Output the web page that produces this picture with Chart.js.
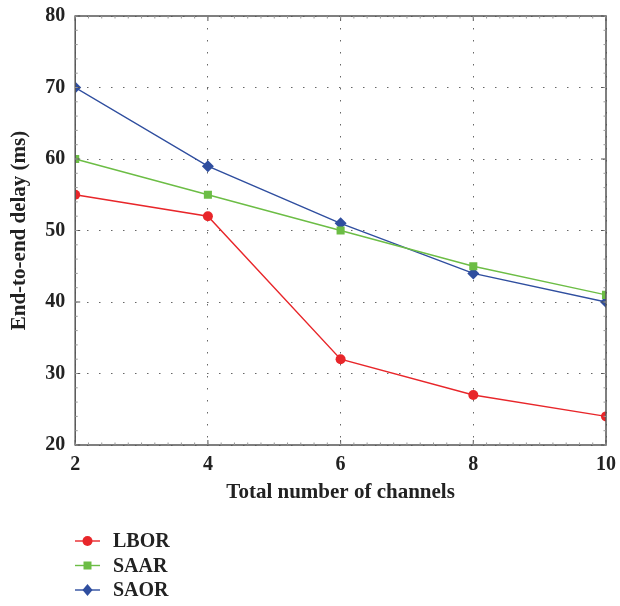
<!DOCTYPE html>
<html>
<head>
<meta charset="utf-8">
<script src="https://cdn.jsdelivr.net/npm/chart.js@4/dist/chart.umd.min.js"></script>
<style>
  html, body { margin:0; padding:0; background:#fff; }
  #wrap { width:620px; height:606px; position:relative; }
</style>
</head>
<body>
<div id="wrap"><canvas id="chart" width="620" height="606"></canvas></div>
<script>
// -- dati --
const channels = [2, 4, 6, 8, 10];
const lbor = [55, 52, 32, 27, 24];
const saar = [60, 55, 50, 45, 41];
const saor = [70, 59, 51, 44, 40];
const seriesNames = ["LBOR", "SAAR", "SAOR"];
const yTicks = [20, 30, 40, 50, 60, 70, 80];

const FONT = "'Liberation Serif', 'DejaVu Serif', serif";
const pts = arr => arr.map((v,i)=>({x:channels[i], y:v}));

// -- cornice, tacche e legenda verticale in basso
const framePlugin = {
  id:'frame',
  afterDraw(chart) {
    const {ctx, chartArea:a, scales:{x, y}} = chart;
    ctx.save();
    ctx.strokeStyle = '#555';
    ctx.lineWidth = 1.5;
    ctx.strokeRect(a.left, a.top, a.right-a.left, a.bottom-a.top);
    ctx.lineWidth = 1;
    // tacche principali
    channels.forEach(v => {
      let px = x.getPixelForValue(v);
      ctx.beginPath();
      ctx.moveTo(px, a.bottom); ctx.lineTo(px, a.bottom-5);
      ctx.moveTo(px, a.top); ctx.lineTo(px, a.top+5);
      ctx.stroke();
    });
    yTicks.forEach(v => {
      let py = y.getPixelForValue(v);
      ctx.beginPath();
      ctx.moveTo(a.left, py); ctx.lineTo(a.left+5, py);
      ctx.moveTo(a.right, py); ctx.lineTo(a.right-5, py);
      ctx.stroke();
    });
    // tacche minori
    ctx.strokeStyle = '#999';
    for (let v=2; v<=10; v+=0.2) {
      let px = x.getPixelForValue(v);
      ctx.beginPath();
      ctx.moveTo(px, a.top); ctx.lineTo(px, a.top+2.5);
      ctx.moveTo(px, a.bottom); ctx.lineTo(px, a.bottom-2.5);
      ctx.stroke();
    }
    for (let v=20; v<=80; v+=2) {
      let py = y.getPixelForValue(v);
      ctx.beginPath();
      ctx.moveTo(a.left, py); ctx.lineTo(a.left+2.5, py);
      ctx.moveTo(a.right, py); ctx.lineTo(a.right-2.5, py);
      ctx.stroke();
    }
    // legenda
    chart.data.datasets.forEach((ds, i) => {
      let ly = 541 + i*24.5;
      ctx.strokeStyle = ds.borderColor;
      ctx.lineWidth = 1.4;
      ctx.beginPath(); ctx.moveTo(75, ly); ctx.lineTo(100, ly); ctx.stroke();
      ctx.fillStyle = ds.pointBackgroundColor;
      ctx.beginPath();
      if (ds.pointStyle === 'circle') ctx.arc(87.5, ly, 5, 0, Math.PI*2);
      else if (ds.pointStyle === 'rect') ctx.rect(83.5, ly-4, 8, 8);
      else { ctx.moveTo(87.5, ly-6); ctx.lineTo(92.5, ly); ctx.lineTo(87.5, ly+6); ctx.lineTo(82.5, ly); ctx.closePath(); }
      ctx.fill();
      ctx.fillStyle = '#222';
      ctx.font = "bold 20px " + FONT;
      ctx.textBaseline = 'middle';
      ctx.fillText(ds.label, 113, ly+1);
    });
    ctx.restore();
  }
};

const colors = ["#e8262a", "#6cbd45", "#2f4e9f"];
const styles = ["circle", "rect", "rectRot"];
const radii = [5, 5.7, 6];
const allData = [lbor, saar, saor];

new Chart(document.getElementById('chart'), {
  type:'line',
  data:{
    datasets: allData.map((d,i)=>({
      label: seriesNames[i],
      data: pts(d),
      borderColor: colors[i],
      backgroundColor: colors[i],
      pointBackgroundColor: colors[i],
      pointBorderColor: colors[i],
      pointBorderWidth: 0,
      pointStyle: styles[i],
      pointRadius: radii[i],
      borderWidth: 1.4,
      tension: 0
    }))
  },
  options:{
    animation:false,
    responsive:false,
    layout:{ padding:{ top:0, right:0, left:7, bottom:103 } },
    plugins:{ legend:{display:false}, tooltip:{enabled:false} },
    scales:{
      x:{
        type:'linear', min:2, max:10,
        afterBuildTicks: s => { s.ticks = channels.map(v=>({value:v})); },
        afterFit: s => { s.paddingRight = 14; },
        border:{display:false, dash:[1.5,10.5]},
        grid:{ color:'#666', lineWidth:1, drawTicks:false },
        ticks:{ color:'#222', padding:8, font:{family:FONT, size:20, weight:'bold'} },
        title:{ display:true, text:'Total number of channels', color:'#222', padding:{top:-3, bottom:0}, font:{family:FONT, size:21, weight:'bold', lineHeight:1} }
      },
      y:{
        min:20, max:80,
        afterBuildTicks: s => { s.ticks = yTicks.map(v=>({value:v})); },
        afterFit: s => { s.paddingTop = 16; },
        border:{display:false, dash:[1.5,10.5]},
        grid:{ color:'#666', lineWidth:1, drawTicks:false },
        ticks:{ color:'#222', padding:10, font:{family:FONT, size:20, weight:'bold'} },
        title:{ display:true, text:'End-to-end delay (ms)', color:'#222', padding:{top:0, bottom:3}, font:{family:FONT, size:21, weight:'bold'} }
      }
    }
  },
  plugins:[framePlugin]
});
</script>
</body>
</html>
